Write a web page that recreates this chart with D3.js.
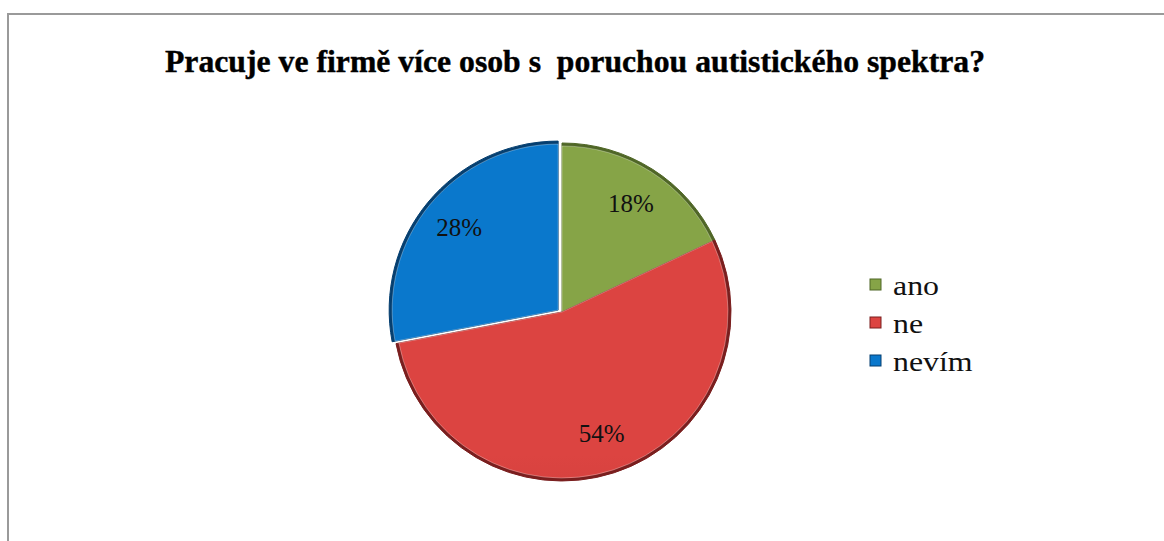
<!DOCTYPE html>
<html>
<head>
<meta charset="utf-8">
<script src="https://cdn.jsdelivr.net/npm/d3@7"></script>
<style>
  body { margin: 0; background: #fff; }
  svg { display: block; }
</style>
</head>
<body>
<div id="chart"></div>
<script>
var categories = ["ano", "ne", "nevím"];
var values = [18, 54, 28];
var labels = ["18%", "54%", "28%"];
var colorsTop = ["#86a447", "#dc4441", "#0a78cc"];
var colorsBottom = ["#6c8a33", "#a02a2a", "#0862ac"];
var edgeColors = ["#4f6626", "#7a1e1e", "#053f70"];

var width = 1164, height = 541;
var cx = 562, cy = 312, radius = 169;
var serif = 'Liberation Serif';

var svg = d3.select('#chart').append('svg')
  .attr('width', width)
  .attr('height', height);

// frame
svg.append('rect')
  .attr('x', 8).attr('y', 14)
  .attr('width', 1200).attr('height', 600)
  .attr('fill', 'none')
  .attr('stroke', '#9a9a9a')
  .attr('stroke-width', 2);

svg.append('text')
  .attr('x', 575).attr('y', 72)
  .attr('text-anchor', 'middle')
  .attr('font-family', serif)
  .attr('font-weight', 'bold')
  .attr('font-size', 31)
  .attr('textLength', 820)
  .attr('lengthAdjust', 'spacingAndGlyphs')
  .attr('stroke', '#000')
  .attr('stroke-width', 0.4)
  .style('white-space', 'pre')
  .text('Pracuje ve firmě více osob s  poruchou autistického spektra?');

var defs = svg.append('defs');
categories.forEach(function(c, i) {
  var g = defs.append('linearGradient')
    .attr('id', 'grad' + i)
    .attr('gradientUnits', 'userSpaceOnUse')
    .attr('x1', 0).attr('y1', cy - radius)
    .attr('x2', 0).attr('y2', cy + radius);
  g.append('stop').attr('offset', '0%').attr('stop-color', colorsTop[i]);
  g.append('stop').attr('offset', '100%').attr('stop-color', colorsBottom[i]);
});

var pie = d3.pie().sort(null).value(function(d) { return d; });
var arcs = pie(values);

var arc = d3.arc().innerRadius(0).outerRadius(radius);
var innerArc = d3.arc().innerRadius(0).outerRadius(radius - 3);
var labelArc = d3.arc().innerRadius(radius * 0.76).outerRadius(radius * 0.76);

// explode offset for the "nevím" slice
function offset(d, i) {
  if (i !== 2) return [0, 0];
  var mid = (d.startAngle + d.endAngle) / 2;
  return [Math.sin(mid) * 5, -Math.cos(mid) * 3];
}

var slices = svg.append('g')
  .attr('transform', 'translate(' + cx + ',' + cy + ')')
  .selectAll('g')
  .data(arcs)
  .enter()
  .append('g')
  .attr('transform', function(d, i) {
    var o = offset(d, i);
    return 'translate(' + o[0] + ',' + o[1] + ')';
  });

slices.append('path')
  .attr('d', arc)
  .attr('fill', function(d, i) { return edgeColors[i]; })
  .attr('stroke', function(d, i) { return edgeColors[i]; })
  .attr('stroke-width', 1);

slices.append('path')
  .attr('d', innerArc)
  .attr('fill', function(d, i) { return 'url(#grad' + i + ')'; })
  .attr('stroke', 'rgba(255,255,255,0.3)')
  .attr('stroke-width', 1);

slices.append('text')
  .attr('transform', function(d) {
    var c = labelArc.centroid(d);
    return 'translate(' + c[0] + ',' + (c[1] + 8) + ')';
  })
  .attr('text-anchor', 'middle')
  .attr('font-family', serif)
  .attr('font-size', 25)
  .attr('fill', '#111')
  .text(function(d, i) { return labels[i]; });

// legend
var legend = svg.append('g')
  .attr('transform', 'translate(870,279)')
  .selectAll('g')
  .data(categories)
  .enter()
  .append('g')
  .attr('transform', function(d, i) { return 'translate(0,' + (i * 38) + ')'; });

legend.append('rect')
  .attr('width', 11).attr('height', 11)
  .attr('fill', function(d, i) { return colorsTop[i]; })
  .attr('stroke', function(d, i) { return edgeColors[i]; })
  .attr('stroke-width', 1);

legend.append('text')
  .attr('transform', 'translate(23,16) scale(1.18,1)')
  .attr('font-family', serif)
  .attr('font-size', 27)
  .attr('fill', '#111')
  .text(function(d) { return d; });
</script>
</body>
</html>
